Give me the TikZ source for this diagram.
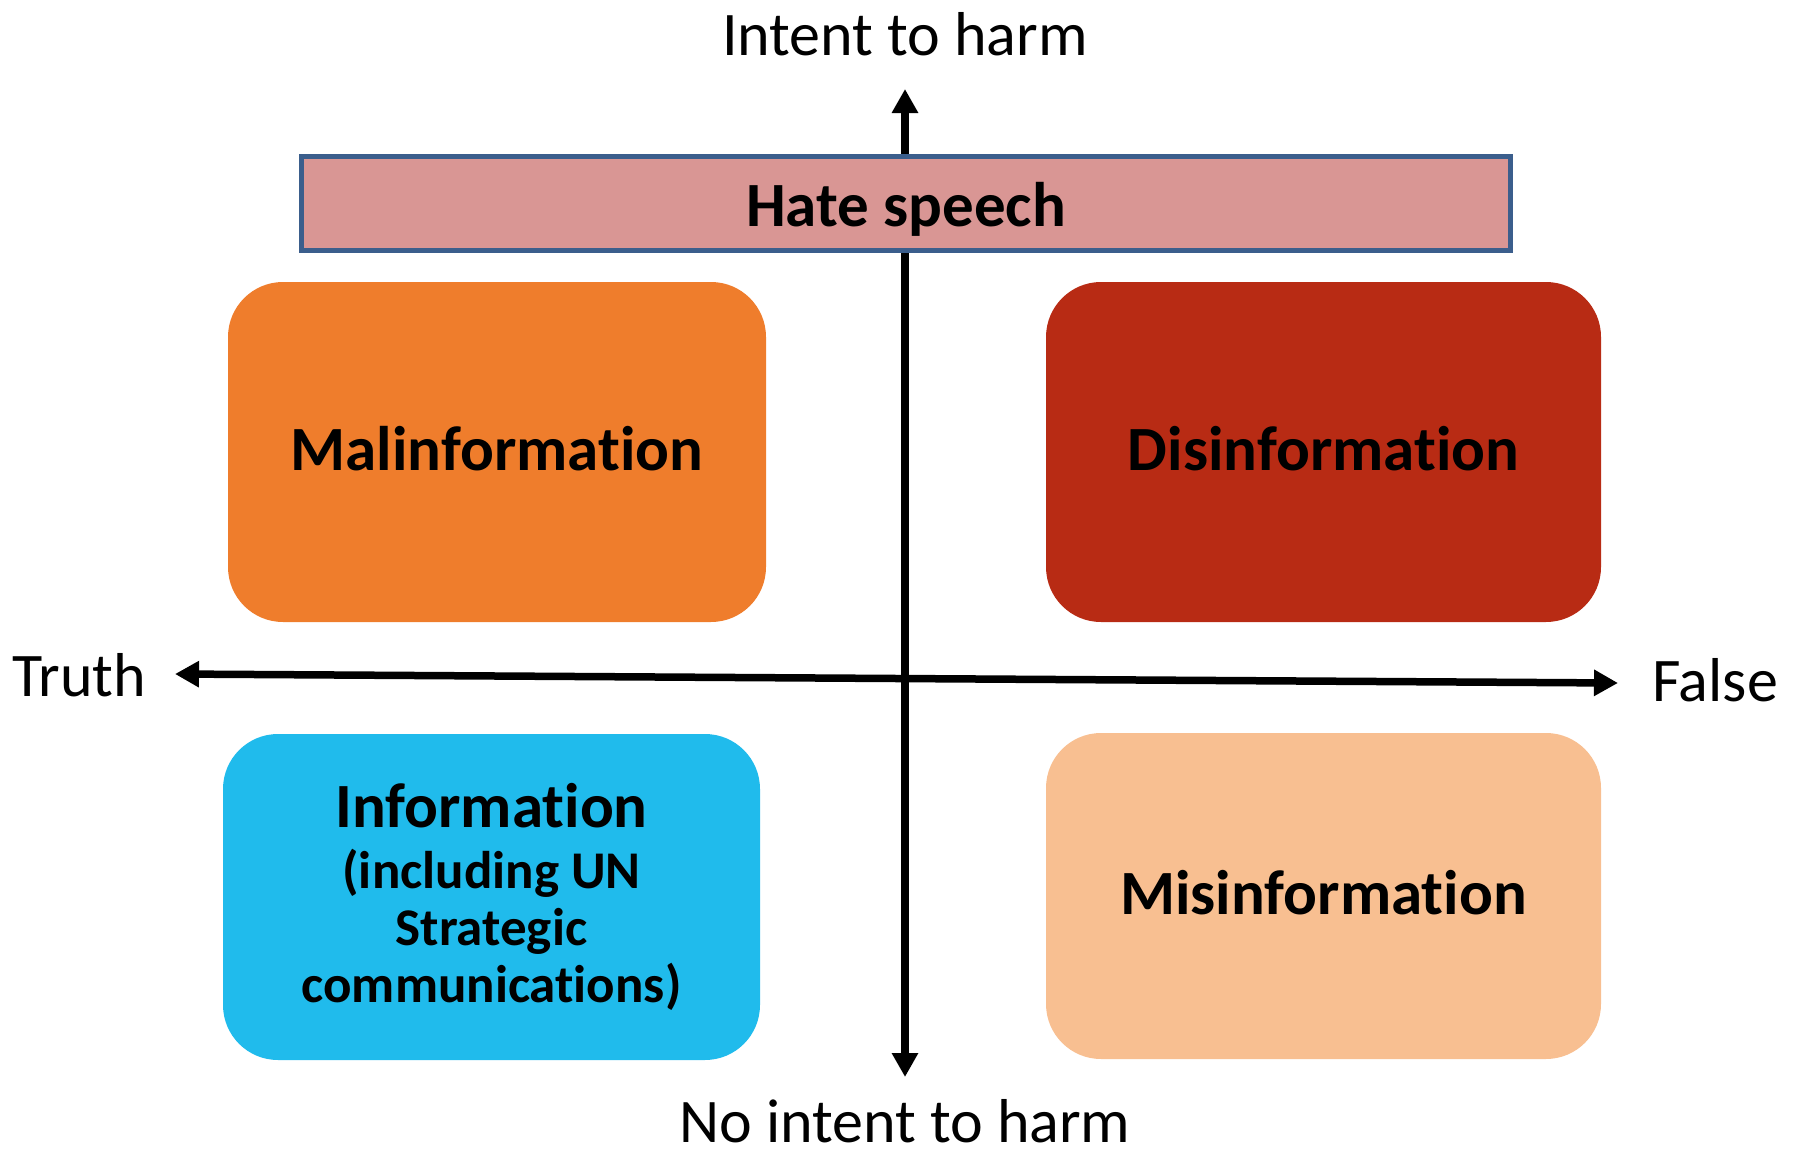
\documentclass[tikz,border=0pt]{standalone}
\usepackage{fontspec}
\setmainfont{Carlito}[Ligatures=NoCommon]
\usetikzlibrary{arrows.meta, positioning}
\definecolor{hatefill}{RGB}{217,150,148}
\definecolor{hateline}{RGB}{59,94,140}
\definecolor{malorange}{RGB}{239,125,44}
\definecolor{disred}{RGB}{184,43,20}
\definecolor{infocyan}{RGB}{32,187,236}
\definecolor{mispeach}{RGB}{248,191,145}

\begin{document}
\begin{tikzpicture}[x=1pt, y=-1pt,
  quadbox/.style={rounded corners=55pt, inner sep=0pt, align=center,
    font=\fontsize{63}{70}\selectfont\bfseries},
  onelabel/.style={text height=37pt, text depth=0pt},
  axisline/.style={line width=7.5pt,
    {Triangle[length=24pt, width=25pt]}-{Triangle[length=24pt, width=25pt]}},
  axislabel/.style={font=\fontsize{62}{70}\selectfont, anchor=base, inner sep=1pt}]
  \useasboundingbox (0,0) rectangle (1797,1151);

  % axes
  \coordinate (top) at (905,89);
  \coordinate (bottom) at (905,1077);
  \coordinate (left) at (175,674);
  \coordinate (right) at (1618,683);
  \draw[axisline] (bottom) -- (top);
  \draw[axisline] (left) -- (right);

  \node[axislabel] (intent) at (905,55) {Intent to harm};
  \node[axislabel] (nointent) at (905,1142) {No intent to harm};
  \node[axislabel] (truth) at (79,696) {Truth};
  \node[axislabel] (false) at (1715,701) {False};

  % banner across the top
  \node[draw=hateline, line width=5pt, fill=hatefill, minimum width=1209pt,
    minimum height=94pt, inner sep=0pt, text height=45pt, text depth=0pt,
    font=\fontsize{63}{70}\selectfont\bfseries]
    (hate) at (906,203.5) {Hate speech};

  % the four quadrants
  \node[quadbox, onelabel, fill=malorange, minimum width=538pt, minimum height=340pt]
    (mal) at (497,452) {Malinformation};
  \node[quadbox, onelabel, fill=disred, minimum width=555pt, minimum height=340pt]
    (dis) at (1323.5,452) {Disinformation};
  \node[quadbox, fill=infocyan, minimum width=537pt, minimum height=326pt,
    font=\fontsize{53}{57}\selectfont\bfseries]
    (info) at (491.5,897) {{\fontsize{63}{70}\selectfont Information}\\[4pt]
      (including UN\\Strategic\\communications)};
  \node[quadbox, onelabel, fill=mispeach, minimum width=555pt, minimum height=326pt]
    (mis) at (1323.5,896) {Misinformation};
\end{tikzpicture}
\end{document}
